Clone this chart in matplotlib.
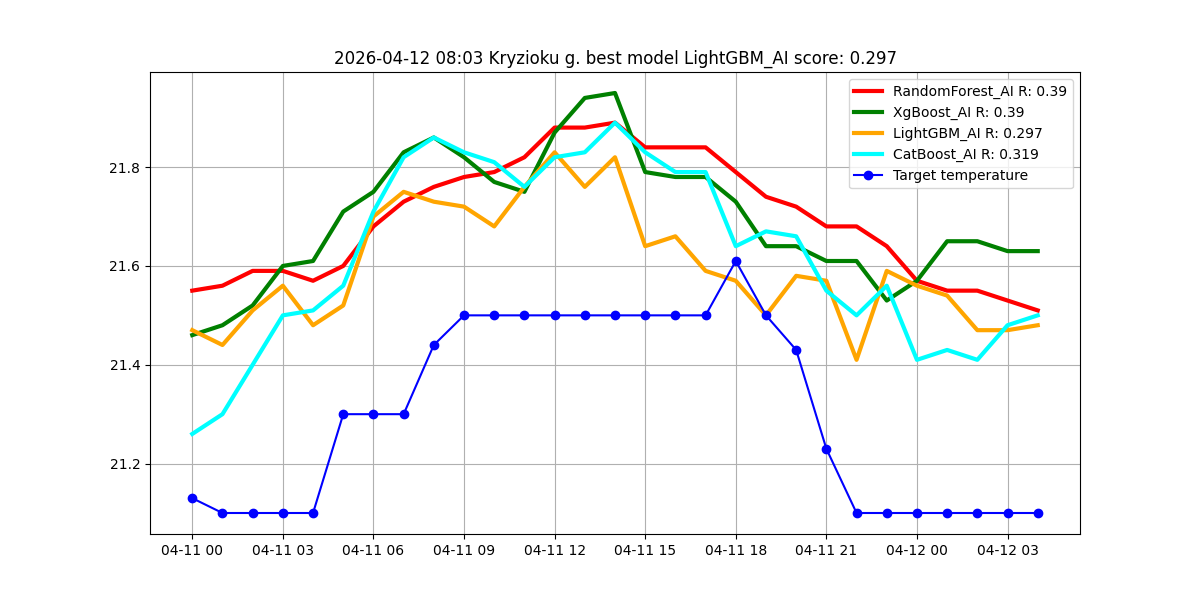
import numpy as np
import pandas as pd
import matplotlib
matplotlib.use("Agg")
import matplotlib.pyplot as plt
import matplotlib.dates as mdates

times = pd.date_range("2026-04-11 00:00", periods=29, freq="h")

random_forest = [21.55, 21.56, 21.59, 21.59, 21.57, 21.60, 21.68, 21.73, 21.76, 21.78,
                 21.79, 21.82, 21.88, 21.88, 21.89, 21.84, 21.84, 21.84, 21.79, 21.74,
                 21.72, 21.68, 21.68, 21.64, 21.57, 21.55, 21.55, 21.53, 21.51]
xgboost = [21.46, 21.48, 21.52, 21.60, 21.61, 21.71, 21.75, 21.83, 21.86, 21.82,
           21.77, 21.75, 21.87, 21.94, 21.95, 21.79, 21.78, 21.78, 21.73, 21.64,
           21.64, 21.61, 21.61, 21.53, 21.57, 21.65, 21.65, 21.63, 21.63]
lightgbm = [21.47, 21.44, 21.51, 21.56, 21.48, 21.52, 21.70, 21.75, 21.73, 21.72,
            21.68, 21.76, 21.83, 21.76, 21.82, 21.64, 21.66, 21.59, 21.57, 21.50,
            21.58, 21.57, 21.41, 21.59, 21.56, 21.54, 21.47, 21.47, 21.48]
catboost = [21.26, 21.30, 21.40, 21.50, 21.51, 21.56, 21.71, 21.82, 21.86, 21.83,
            21.81, 21.76, 21.82, 21.83, 21.89, 21.83, 21.79, 21.79, 21.64, 21.67,
            21.66, 21.55, 21.50, 21.56, 21.41, 21.43, 21.41, 21.48, 21.50]
target = [21.13, 21.10, 21.10, 21.10, 21.10, 21.30, 21.30, 21.30, 21.44, 21.50,
          21.50, 21.50, 21.50, 21.50, 21.50, 21.50, 21.50, 21.50, 21.61, 21.50,
          21.43, 21.23, 21.10, 21.10, 21.10, 21.10, 21.10, 21.10, 21.10]

fig, ax = plt.subplots(figsize=(12, 6), dpi=100)
ax.plot(times, random_forest, color="red", linewidth=3, label="RandomForest_AI R: 0.39")
ax.plot(times, xgboost, color="green", linewidth=3, label="XgBoost_AI R: 0.39")
ax.plot(times, lightgbm, color="orange", linewidth=3, label="LightGBM_AI R: 0.297")
ax.plot(times, catboost, color="cyan", linewidth=3, label="CatBoost_AI R: 0.319")
ax.plot(times, target, color="blue", marker="o", label="Target temperature")

ax.xaxis.set_major_locator(mdates.HourLocator(byhour=range(0, 24, 3)))
ax.xaxis.set_major_formatter(mdates.DateFormatter("%m-%d %H"))
ax.grid(True)
ax.legend(loc="upper right")
ax.set_title("2026-04-12 08:03 Kryzioku g. best model LightGBM_AI score: 0.297")

plt.savefig("out.png")
